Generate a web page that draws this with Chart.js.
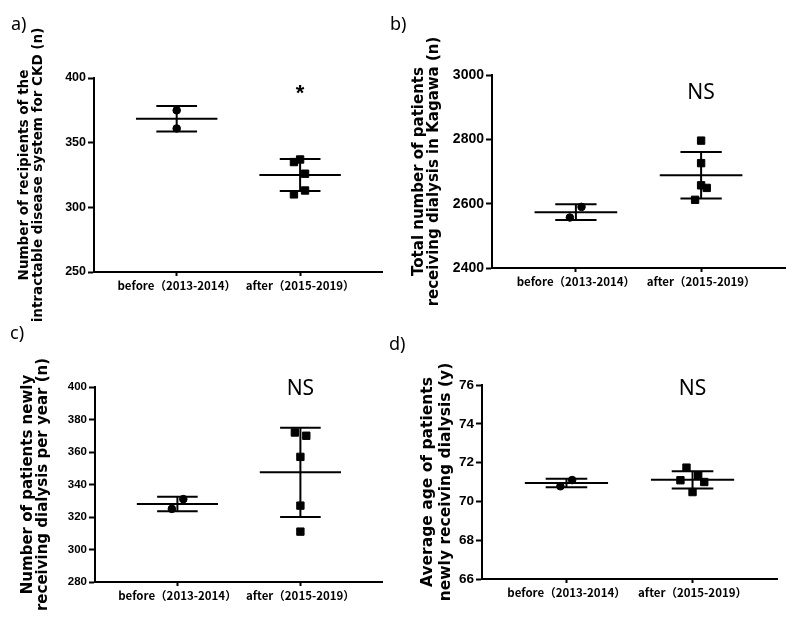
<!DOCTYPE html>
<html>
<head>
<meta charset="utf-8">
<script src="https://cdn.jsdelivr.net/npm/chart.js@4.4.1/dist/chart.umd.min.js"></script>
<style>
  body { margin: 0; background: #fff; width: 795px; height: 621px; position: relative; overflow: hidden; }
  canvas { position: absolute; }
</style>
</head>
<body>
<canvas id="chartA" width="389" height="330" style="left:0;top:0"></canvas>
<canvas id="chartB" width="406" height="310" style="left:389px;top:0"></canvas>
<canvas id="chartC" width="389" height="321" style="left:0;top:300px"></canvas>
<canvas id="chartD" width="406" height="311" style="left:389px;top:310px"></canvas>
<script>
// Group labels (x axis)
const groups = ['before（2013-2014）', 'after（2015-2019）'];

// a) recipients of the intractable disease system for CKD
const aBefore = [375, 361];
const aAfter = [335, 337, 326, 313, 310];
const aMean = [368.5, 325];
const aSD = [9.9, 12.4];

// b) total number of patients receiving dialysis in Kagawa
const bBefore = [2590, 2557];
const bAfter = [2796, 2726, 2657, 2649, 2612];
const bMean = [2573.5, 2688.5];
const bSD = [24.5, 72.5];

// c) patients newly receiving dialysis per year
const cBefore = [331, 325];
const cAfter = [372, 370, 357, 327, 311];
const cMean = [328, 347.5];
const cSD = [4.4, 27.5];

// d) average age of patients newly receiving dialysis
const dBefore = [71.1, 70.78];
const dAfter = [71.74, 71.34, 71.09, 71.0, 70.48];
const dMean = [70.95, 71.11];
const dSD = [0.22, 0.44];

// significance marks
const markText = ['*', 'NS', 'NS', 'NS'];
const markValue = [390.8, 2943, 398.6, 75.78];

// horizontal scatter of the dots (x units, 1 = distance between groups)
const aJitter = [[0, 0], [-0.05, 0, 0.04, 0.04, -0.05]];
const bJitter = [[0.045, -0.048], [0, 0, 0, 0.045, -0.048]];
const cJitter = [[0.048, -0.045], [-0.045, 0.048, 0, 0, 0]];
const dJitter = [[0.045, -0.048], [-0.048, 0.045, -0.096, 0.093, 0]];

const MEAN_HALF = 0.33;
const CAP_HALF = 0.165;
const X_H = 30;

// mean line, SD caps and the vertical SD line for each group
function errorBars(mean, sd) {
    const sets = [];
    mean.forEach((m, g) => {
        const s = sd[g];
        [[g - MEAN_HALF, m, g + MEAN_HALF, m],
         [g - CAP_HALF, m + s, g + CAP_HALF, m + s],
         [g - CAP_HALF, m - s, g + CAP_HALF, m - s],
         [g, m - s, g, m + s]].forEach(([x1, y1, x2, y2]) => {
            sets.push({
                data: [{ x: x1, y: y1 }, { x: x2, y: y2 }],
                showLine: true,
                borderColor: '#000',
                borderWidth: 2,
                pointRadius: 0,
                fill: false
            });
        });
    });
    return sets;
}

const annotPlugin = {
    id: 'annot',
    afterDatasetsDraw(chart, args, o) {
        const { ctx, scales: { x, y } } = chart;
        ctx.save();
        ctx.fillStyle = '#000';
        ctx.textAlign = 'center';
        ctx.textBaseline = 'middle';
        ctx.font = o.font;
        ctx.fillText(o.text, x.getPixelForValue(1), y.getPixelForValue(o.value) + o.dy);
        ctx.font = '18px "Noto Sans"';
        ctx.textAlign = 'left';
        ctx.textBaseline = 'alphabetic';
        ctx.fillText(o.panel, o.panelX, o.panelY);
        ctx.restore();
    }
};

function makeChart(id, p) {
    const canvas = document.getElementById(id);
    const W = canvas.width, H = canvas.height;
    const before = p.before.map((v, i) => ({ x: 0 + p.jitter[0][i], y: v }));
    const after = p.after.map((v, i) => ({ x: 1 + p.jitter[1][i], y: v }));
    return new Chart(canvas, {
        type: 'scatter',
        data: {
            datasets: [
                { data: before, pointStyle: 'circle', pointRadius: 3.8, borderWidth: 1,
                  backgroundColor: '#000', borderColor: '#000' },
                { data: after, pointStyle: 'rect', pointRadius: 5.2, borderWidth: 1,
                  backgroundColor: '#000', borderColor: '#000' },
                ...errorBars(p.mean, p.sd)
            ]
        },
        plugins: [annotPlugin],
        options: {
            responsive: false,
            animation: false,
            events: [],
            layout: {
                padding: { left: 0, top: p.area.top, right: W - p.area.right, bottom: H - p.area.bottom - X_H }
            },
            plugins: {
                legend: { display: false },
                tooltip: { enabled: false },
                annot: p.annot
            },
            scales: {
                x: {
                    type: 'linear',
                    min: -0.67,
                    max: 1.67,
                    afterBuildTicks: (s) => { s.ticks = [{ value: 0 }, { value: 1 }]; },
                    afterFit: (s) => { s.height = X_H; },
                    grid: { drawOnChartArea: false, drawTicks: true, tickLength: 4, tickColor: '#000', tickWidth: 2 },
                    border: { display: true, color: '#000', width: 2 },
                    ticks: {
                        callback: (v) => groups[v],
                        color: '#000',
                        font: { family: '"Noto Sans CJK JP"', size: 11.5, weight: 'bold' },
                        padding: 3,
                        maxRotation: 0,
                        autoSkip: false
                    }
                },
                y: {
                    min: p.yMin,
                    max: p.yMax,
                    afterFit: (s) => { s.width = p.area.left; },
                    grid: { drawOnChartArea: false, drawTicks: true, tickLength: 6, tickColor: '#000', tickWidth: 2 },
                    border: { display: true, color: '#000', width: 2 },
                    ticks: {
                        stepSize: p.step,
                        callback: (v) => String(v),
                        color: '#000',
                        padding: 2,
                        font: { family: '"Liberation Sans", Arial', size: p.tickSize, weight: 'bold' }
                    },
                    title: {
                        display: true,
                        text: p.title,
                        color: '#000',
                        font: { family: '"DejaVu Sans"', size: p.titleSize, weight: 'bold', lineHeight: p.titleLH },
                        padding: { top: p.titlePad, bottom: 0 }
                    }
                }
            }
        }
    });
}

makeChart('chartA', {
    before: aBefore, after: aAfter, mean: aMean, sd: aSD, jitter: aJitter,
    yMin: 250, yMax: 400, step: 50, tickSize: 12.5,
    title: ['Number of recipients of the', 'intractable disease system for CKD (n)'],
    titleSize: 13.5, titleLH: '14px', titlePad: 17,
    area: { left: 94, right: 387, top: 78, bottom: 272 },
    annot: { text: markText[0], value: markValue[0], font: 'bold 22px "Liberation Sans"', dy: 4.5,
             panel: 'a)', panelX: 11, panelY: 29.5 }
});

makeChart('chartB', {
    before: bBefore, after: bAfter, mean: bMean, sd: bSD, jitter: bJitter,
    yMin: 2400, yMax: 3000, step: 200, tickSize: 14,
    title: ['Total number of patients', 'receiving dialysis in Kagawa (n)'],
    titleSize: 15, titleLH: '15px', titlePad: 23,
    area: { left: 103, right: 396, top: 75, bottom: 268 },
    annot: { text: markText[1], value: markValue[1], font: '21px "Noto Sans"', dy: 0,
             panel: 'b)', panelX: 1, panelY: 29.5 }
});

makeChart('chartC', {
    before: cBefore, after: cAfter, mean: cMean, sd: cSD, jitter: cJitter,
    yMin: 280, yMax: 400, step: 20, tickSize: 11.5,
    title: ['Number of patients newly', 'receiving dialysis per year (n)'],
    titleSize: 15, titleLH: '14.5px', titlePad: 21,
    area: { left: 95, right: 387, top: 87, bottom: 282 },
    annot: { text: markText[2], value: markValue[2], font: '21px "Noto Sans"', dy: 0,
             panel: 'c)', panelX: 10, panelY: 39 }
});

makeChart('chartD', {
    before: dBefore, after: dAfter, mean: dMean, sd: dSD, jitter: dJitter,
    yMin: 66, yMax: 76, step: 2, tickSize: 13.5,
    title: ['Average age of patients', 'newly receiving dialysis (y)'],
    titleSize: 15.5, titleLH: '18px', titlePad: 30,
    area: { left: 93, right: 388, top: 75, bottom: 269 },
    annot: { text: markText[3], value: markValue[3], font: '21px "Noto Sans"', dy: 0,
             panel: 'd)', panelX: 0, panelY: 40 }
});
</script>
</body>
</html>
